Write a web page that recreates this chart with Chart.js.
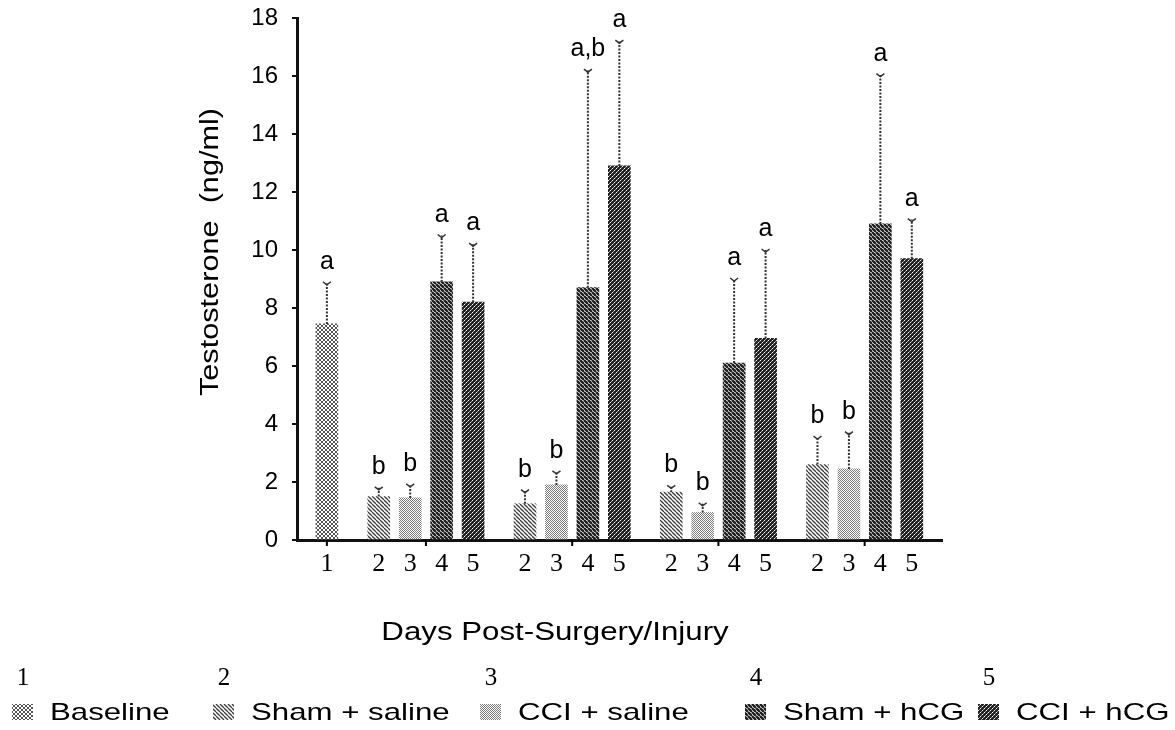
<!DOCTYPE html>
<html>
<head>
<meta charset="utf-8">
<script src="https://cdn.jsdelivr.net/npm/chart.js@4.4.0/dist/chart.umd.min.js"></script>
<style>
  html, body { margin: 0; padding: 0; background: #fff; }
  #wrap { width: 1175px; height: 730px; }
</style>
</head>
<body>
<div id="wrap"><canvas id="myChart" width="1175" height="730"></canvas></div>
<script>
// series (treatments) and their legend numbers
const seriesNames = ['Baseline', 'Sham + saline', 'CCI + saline', 'Sham + hCG', 'CCI + hCG'];
const seriesNumbers = ['1', '2', '3', '4', '5'];

// testosterone means (ng/ml), one value per post-surgery day group
const baselineMean = [7.45];
const shamSalineMean = [1.5, 1.25, 1.65, 2.6];
const cciSalineMean = [1.45, 1.9, 0.95, 2.45];
const shamHcgMean = [8.9, 8.7, 6.1, 10.9];
const cciHcgMean = [8.2, 12.9, 6.95, 9.7];

// upper error bar length
const baselineErr = [1.42];
const shamSalineErr = [0.3, 0.45, 0.2, 0.95];
const cciSalineErr = [0.45, 0.45, 0.3, 1.25];
const shamHcgErr = [1.6, 7.5, 2.9, 5.15];
const cciHcgErr = [2.0, 4.3, 3.05, 1.35];

// significance letters
const baselineLetters = ['a'];
const shamSalineLetters = ['b', 'b', 'b', 'b'];
const cciSalineLetters = ['b', 'b', 'b', 'b'];
const shamHcgLetters = ['a', 'a,b', 'a', 'a'];
const cciHcgLetters = ['a', 'a', 'a', 'a'];

const yTicks = [0, 2, 4, 6, 8, 10, 12, 14, 16, 18];

const means = [baselineMean, shamSalineMean, cciSalineMean, shamHcgMean, cciHcgMean];
const errs = [baselineErr, shamSalineErr, cciSalineErr, shamHcgErr, cciHcgErr];
const letters = [baselineLetters, shamSalineLetters, cciSalineLetters, shamHcgLetters, cciHcgLetters];

// slot layout: baseline alone, then 4 groups of 4 bars
const GROUP_GAP = 1.65;
const GROUP_STEP = 4.65;
function barX(series, group) {
    if (series === 0) return 0;
    return GROUP_GAP + group * GROUP_STEP + (series - 1);
}

const tickPositions = [];
const tickLabels = [];
means.forEach((arr, s) => arr.forEach((v, g) => {
    tickPositions.push(barX(s, g));
    tickLabels.push(seriesNumbers[s]);
}));
const order = tickPositions.map((p, i) => i).sort((a, b) => tickPositions[a] - tickPositions[b]);
const sortedTicks = order.map(i => tickPositions[i]);
const sortedLabels = order.map(i => tickLabels[i]);
const groupCenters = [0].concat(shamSalineMean.map((v, g) => barX(1, g) + 1.5));

// legend swatch left edges
const legendX = [12, 213, 480, 745, 978];

function makePattern(size, draw) {
    const c = document.createElement('canvas');
    c.width = size; c.height = size;
    const p = c.getContext('2d');
    p.fillStyle = '#fff';
    p.fillRect(0, 0, size, size);
    draw(p, size);
    return document.getElementById('myChart').getContext('2d').createPattern(c, 'repeat');
}
function dots(p, list, color) {
    p.fillStyle = color;
    list.forEach(d => p.fillRect(d[0], d[1], 1, 1));
}
function diag(p, size, width, color) {
    p.strokeStyle = color;
    p.lineWidth = width;
    for (let k = -size; k <= size; k += size) {
        p.beginPath();
        p.moveTo(k, 0);
        p.lineTo(k + size, size);
        p.stroke();
    }
}

const patterns = [
    makePattern(4, p => dots(p, [[0,0],[1,1],[2,2],[3,3],[3,0],[2,1],[1,2],[0,3]], '#555')),
    makePattern(4, (p, s) => diag(p, s, 1.3, '#3a3a3a')),
    makePattern(4, p => dots(p, [[0,0],[2,0],[1,1],[3,1],[0,2],[2,2],[1,3],[3,3]], '#7a7a7a')),
    makePattern(4, (p, s) => diag(p, s, 2.4, '#1e1e1e')),
    makePattern(4, p => { p.fillStyle = '#222'; p.fillRect(0, 0, 4, 4); dots(p, [[0,0],[2,2]], '#fff'); dots(p, [[1,3],[3,1]], '#999'); })
];

function stretchText(ctx, text, x, y, sx) {
    ctx.save();
    ctx.translate(x, y);
    ctx.scale(sx, 1);
    ctx.fillText(text, 0, 0);
    ctx.restore();
}

const decor = {
    id: 'decor',
    afterDatasetsDraw(chart) {
        const ctx = chart.ctx;
        const xs = chart.scales.x, ys = chart.scales.y;
        ctx.save();
        // error bars + letters
        chart.data.datasets.forEach((ds, s) => {
            const meta = chart.getDatasetMeta(s);
            meta.data.forEach((el, g) => {
                const top = ys.getPixelForValue(means[s][g] + errs[s][g]);
                ctx.strokeStyle = '#333';
                ctx.lineWidth = 2;
                ctx.setLineDash([2, 1.5]);
                ctx.beginPath();
                ctx.moveTo(el.x, el.y);
                ctx.lineTo(el.x, top);
                ctx.stroke();
                ctx.setLineDash([]);
                ctx.lineWidth = 1.5;
                ctx.beginPath();
                ctx.moveTo(el.x - 4, top - 1);
                ctx.lineTo(el.x, top + 2);
                ctx.lineTo(el.x + 4, top - 1);
                ctx.stroke();
                ctx.fillStyle = '#000';
                ctx.font = '25px "Liberation Sans"';
                ctx.textAlign = 'center';
                ctx.textBaseline = 'alphabetic';
                ctx.fillText(letters[s][g], el.x, top - 14);
            });
        });
        // group tick marks on x axis
        ctx.strokeStyle = '#000';
        ctx.lineWidth = 2;
        groupCenters.forEach(v => {
            const px = xs.getPixelForValue(v);
            ctx.beginPath();
            ctx.moveTo(px, ys.bottom);
            ctx.lineTo(px, ys.bottom + 6);
            ctx.stroke();
        });
        ctx.restore();
    },
    afterDraw(chart) {
        const ctx = chart.ctx;
        ctx.save();
        ctx.fillStyle = '#000';
        ctx.textBaseline = 'middle';
        ctx.textAlign = 'center';
        // y title
        ctx.save();
        ctx.translate(211, 252);
        ctx.rotate(-Math.PI / 2);
        ctx.font = '26px "Liberation Sans"';
        stretchText(ctx, 'Testosterone  (ng/ml)', 0, 0, 1.18);
        ctx.restore();
        // x title
        ctx.font = '25px "Liberation Sans"';
        stretchText(ctx, 'Days Post-Surgery/Injury', 555, 633, 1.25);
        // legend
        chart.data.datasets.forEach((ds, s) => {
            const x = legendX[s];
            ctx.fillStyle = ds.backgroundColor;
            ctx.fillRect(x, 704, 21, 16);
            ctx.fillStyle = '#000';
            ctx.font = '25px "Liberation Serif"';
            ctx.textAlign = 'center';
            ctx.fillText(seriesNumbers[s], x + 11, 678);
            ctx.font = '24px "Liberation Sans"';
            ctx.textAlign = 'left';
            stretchText(ctx, ds.label, x + 38, 713, 1.3);
        });
        ctx.restore();
    }
};

const ctx = document.getElementById('myChart').getContext('2d');
const myChart = new Chart(ctx, {
    type: 'bar',
    data: {
        datasets: seriesNames.map((name, s) => ({
            label: name,
            data: means[s].map((v, g) => ({ x: barX(s, g), y: v })),
            backgroundColor: patterns[s],
            borderWidth: 0,
            barThickness: 22,
            grouped: false
        }))
    },
    options: {
        responsive: false,
        animation: false,
        layout: { padding: { top: 18, right: 233, bottom: 150, left: 0 } },
        scales: {
            x: {
                type: 'linear',
                offset: false,
                min: -0.95,
                max: 19.56,
                afterBuildTicks: scale => { scale.ticks = sortedTicks.map(v => ({ value: v })); },
                afterFit: scale => { scale.height = 40; },
                ticks: {
                    autoSkip: false,
                    maxRotation: 0,
                    padding: 1,
                    color: '#000',
                    font: { family: 'Liberation Serif', size: 26 },
                    callback: (v, i) => sortedLabels[i]
                },
                grid: { display: false },
                border: { display: true, color: '#111', width: 3 }
            },
            y: {
                min: 0,
                max: 18,
                afterBuildTicks: scale => { scale.ticks = yTicks.map(v => ({ value: v })); },
                afterFit: scale => {
                    scale.width = 297;
                    scale.paddingTop = 0;
                    scale.paddingBottom = 0;
                },
                ticks: {
                    padding: 14,
                    color: '#000',
                    font: { family: 'Liberation Sans', size: 24 }
                },
                grid: { drawOnChartArea: false, drawTicks: true, tickLength: 5, color: '#111', lineWidth: 2 },
                border: { display: true, color: '#111', width: 3 }
            }
        },
        plugins: {
            legend: { display: false },
            tooltip: { enabled: false }
        }
    },
    plugins: [decor]
});
</script>
</body>
</html>
